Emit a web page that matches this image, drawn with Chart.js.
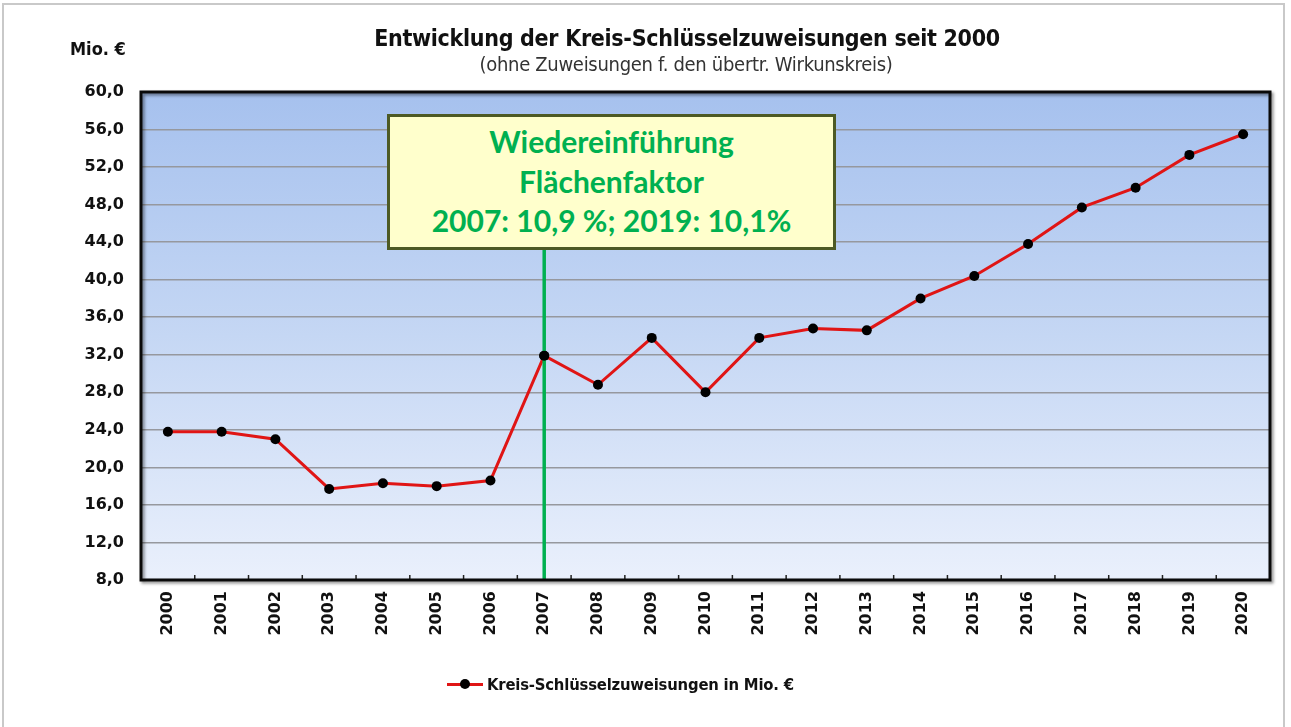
<!DOCTYPE html>
<html lang="de">
<head>
<meta charset="utf-8">
<title>Entwicklung der Kreis-Schlüsselzuweisungen seit 2000</title>
<script src="https://cdn.jsdelivr.net/npm/chart.js@4.4.1/dist/chart.umd.min.js"></script>
<style>
  html, body { margin: 0; padding: 0; background: #fff; }
  #wrap { position: relative; width: 1291px; height: 727px; overflow: hidden; }
  #frame { position: absolute; left: 2px; top: 3px; width: 1283px; height: 740px; border: 2px solid #c9c9c9; box-sizing: border-box; }
  canvas { position: absolute; left: 0; top: 0; }
  .txt { position: absolute; white-space: nowrap; color: #111; }
  #title { left: 0; width: 1374px; top: 25px; text-align: center; font: bold 23px "DejaVu Sans Condensed", "DejaVu Sans", sans-serif; letter-spacing: -0.3px; }
  #subtitle { left: 0; width: 1372px; top: 52px; text-align: center; font: 20px "DejaVu Sans Condensed", "DejaVu Sans", sans-serif; color: #333; letter-spacing: -0.3px; }
  #unit { left: 70px; top: 38px; font: bold 18px "DejaVu Sans Condensed", "DejaVu Sans", sans-serif; }
  #note { position: absolute; left: 387px; top: 114px; width: 449px; height: 136px; box-sizing: border-box;
          background: #ffffcc; border: 3px solid #4d5a24; text-align: center;
          font: bold 30px Lato, "Open Sans", sans-serif; color: #00b050; line-height: 39.5px; padding-top: 5px; }
  #legend { left: 447px; top: 675px; font: bold 16.5px "DejaVu Sans Condensed", "DejaVu Sans", sans-serif; letter-spacing: -0.2px; }
  #legend .mark { display: inline-block; position: relative; width: 36px; height: 3px; background: #e01515; vertical-align: middle; margin-right: 4px; top: -1px; }
  #legend .mark::after { content: ""; position: absolute; left: 13px; top: -4px; width: 10px; height: 10px; border-radius: 50%; background: #000; }
</style>
</head>
<body>
<div id="wrap">
  <div id="frame"></div>
  <canvas id="chart" width="1291" height="727"></canvas>
  <div class="txt" id="unit">Mio. €</div>
  <div class="txt" id="title">Entwicklung der Kreis-Schlüsselzuweisungen seit 2000</div>
  <div class="txt" id="subtitle">(ohne Zuweisungen f. den übertr. Wirkunskreis)</div>
  <div id="note">Wiedereinführung<br>Flächenfaktor<br>2007: 10,9 %; 2019: 10,1%</div>
  <div class="txt" id="legend"><span class="mark"></span>Kreis-Schlüsselzuweisungen in Mio. €</div>
</div>
<script>
// chart data
const years = ['2000', '2001', '2002', '2003', '2004', '2005', '2006', '2007', '2008', '2009', '2010',
  '2011', '2012', '2013', '2014', '2015', '2016', '2017', '2018', '2019', '2020'];
const zuweisungen = [23.8, 23.8, 23.0, 17.7, 18.3, 18.0, 18.6, 31.9, 28.8, 33.8, 28.0,
  33.8, 34.8, 34.6, 38.0, 40.4, 43.8, 47.7, 49.8, 53.3, 55.5];
const yMin = 8;
const yMax = 60;
const yStep = 4;
const markerYear = '2007';

const axisFont = { family: '"DejaVu Sans", Verdana, sans-serif', size: 16, weight: 'bold' };

// plot area: gradient background, border, inner tick marks, marker line
const plotDecor = {
  id: 'plotDecor',
  beforeDraw: function(chart) {
    const a = chart.chartArea;
    const ctx = chart.ctx;
    const g = ctx.createLinearGradient(0, a.top, 0, a.bottom);
    g.addColorStop(0, '#a6c1ee');
    g.addColorStop(0.5, '#c5d7f4');
    g.addColorStop(1, '#eaf0fc');
    ctx.save();
    ctx.fillStyle = g;
    ctx.fillRect(a.left, a.top, a.right - a.left, a.bottom - a.top);
    ctx.restore();
  },
  afterDatasetsDraw: function(chart) {
    const a = chart.chartArea;
    const ctx = chart.ctx;
    const xs = chart.scales.x;
    ctx.save();
    // small tick marks between categories, pointing inward
    ctx.strokeStyle = '#222';
    ctx.lineWidth = 1.5;
    for (let i = 0; i < years.length - 1; i++) {
      const x = (xs.getPixelForValue(i) + xs.getPixelForValue(i + 1)) / 2;
      ctx.beginPath();
      ctx.moveTo(x, a.bottom);
      ctx.lineTo(x, a.bottom - 5);
      ctx.stroke();
    }
    // green marker line at 2007, from the note box down to the axis
    const mx = xs.getPixelForValue(years.indexOf(markerYear));
    ctx.strokeStyle = '#00b050';
    ctx.lineWidth = 3.5;
    ctx.beginPath();
    ctx.moveTo(mx, 248);
    ctx.lineTo(mx, a.bottom);
    ctx.stroke();
    // frame with a soft shadow
    ctx.shadowColor = 'rgba(0,0,0,0.45)';
    ctx.shadowBlur = 3;
    ctx.shadowOffsetX = 2;
    ctx.shadowOffsetY = 2;
    ctx.strokeStyle = '#0a0a0a';
    ctx.lineWidth = 3;
    ctx.strokeRect(a.left, a.top, a.right - a.left, a.bottom - a.top);
    ctx.restore();
  }
};

// keep the 2007 marker point above the green line
const pointsOnTop = {
  id: 'pointsOnTop',
  afterDraw: function(chart) {
    const meta = chart.getDatasetMeta(0);
    const ctx = chart.ctx;
    const p = meta.data[years.indexOf(markerYear)];
    ctx.save();
    ctx.fillStyle = '#000';
    ctx.beginPath();
    ctx.arc(p.x, p.y, 5, 0, Math.PI * 2);
    ctx.fill();
    ctx.restore();
  }
};

const ctx = document.getElementById('chart').getContext('2d');
new Chart(ctx, {
  type: 'line',
  data: {
    labels: years,
    datasets: [{
      label: 'Kreis-Schlüsselzuweisungen in Mio. €',
      data: zuweisungen,
      borderColor: '#e01515',
      borderWidth: 3,
      pointBackgroundColor: '#000',
      pointBorderColor: '#000',
      pointRadius: 5,
      pointBorderWidth: 0,
      tension: 0,
      fill: false
    }]
  },
  options: {
    responsive: false,
    animation: false,
    events: [],
    layout: { padding: { top: 92, right: 21, bottom: 0, left: 0 } },
    plugins: {
      legend: { display: false },
      tooltip: { enabled: false }
    },
    scales: {
      x: {
        offset: true,
        grid: { display: false, drawTicks: false },
        border: { display: false },
        ticks: {
          font: axisFont,
          color: '#111',
          padding: 11,
          minRotation: 90,
          maxRotation: 90,
          autoSkip: false
        },
        afterFit: function(scale) { scale.height = 147; }
      },
      y: {
        min: yMin,
        max: yMax,
        grid: { color: '#96989e', lineWidth: 1.5, drawTicks: false },
        border: { display: false },
        ticks: {
          stepSize: yStep,
          font: axisFont,
          color: '#111',
          padding: 17,
          callback: function(value) {
            return value.toFixed(1).replace('.', ',');
          }
        },
        afterFit: function(scale) { scale.width = 141; }
      }
    }
  },
  plugins: [plotDecor, pointsOnTop]
});
</script>
</body>
</html>
